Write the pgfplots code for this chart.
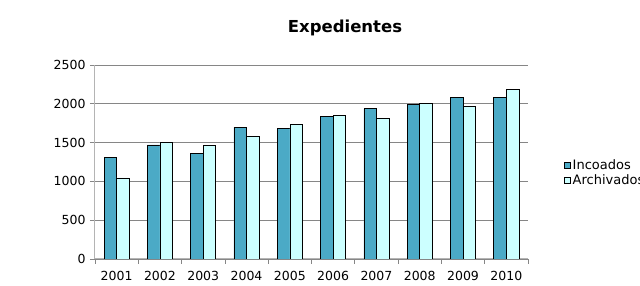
\documentclass[border=0pt]{standalone}
\usepackage{pgfplots}
\pgfplotsset{compat=1.18}
\usepackage{fontspec}
\setmainfont{DejaVu Sans}
\definecolor{inc}{HTML}{4BAAC6}
\definecolor{arc}{HTML}{CCFFFF}
\definecolor{gridc}{HTML}{868686}
\definecolor{axc}{HTML}{B4B4B4}
\begin{document}
\begin{tikzpicture}[font=\fontsize{13}{15}\selectfont]
\path[use as bounding box] (-95pt,-27pt) rectangle (545pt,259pt);
\begin{axis}[
  at={(0pt,0pt)}, anchor=south west,
  scale only axis, width=433pt, height=194pt,
  xmin=-0.5, xmax=9.5, ymin=0, ymax=2500,
  ytick={0,500,1000,1500,2000,2500},
  xtick={-0.5,0.5,...,9.5},
  x tick label as interval,
  xticklabels={2001,2002,2003,2004,2005,2006,2007,2008,2009,2010},
  axis lines*=left,
  axis line style={axc, line width=1pt},
  ymajorgrids, grid style={gridc, line width=0.8pt},
  tick style={gridc, line width=0.8pt},
  tick align=outside, major tick length=5pt,
  /pgf/number format/assume math mode=true,
  /pgf/number format/1000 sep={},
  tick label style={font=\fontsize{12.5}{14}\selectfont},
  xticklabel style={yshift=-4pt},
  yticklabel style={xshift=-1pt},
  bar width=0.29,
  legend style={at={(1.076,0.443)}, anchor=west, draw=none, fill=none,
    font=\fontsize{13}{15}\selectfont, row sep=0pt},
  legend cell align=left,
  legend image code/.code={\draw[#1, line width=0.6pt] (0pt,-3pt) rectangle (6pt,3pt);},
]
\addplot[ybar, bar shift=-0.145, fill=inc, draw=black, line width=0.7pt]
  coordinates {(0,1310) (1,1470) (2,1365) (3,1695) (4,1680) (5,1835) (6,1935) (7,1995) (8,2085) (9,2085)};
\addlegendentry{Incoados}
\addplot[ybar, bar shift=0.145, fill=arc, draw=black, line width=0.7pt]
  coordinates {(0,1045) (1,1505) (2,1460) (3,1580) (4,1730) (5,1850) (6,1815) (7,2005) (8,1970) (9,2190)};
\addlegendentry{Archivados}
\end{axis}
\node[font=\bfseries\fontsize{16.5}{19}\selectfont] at (250pt,231pt) {Expedientes};
\end{tikzpicture}
\end{document}
